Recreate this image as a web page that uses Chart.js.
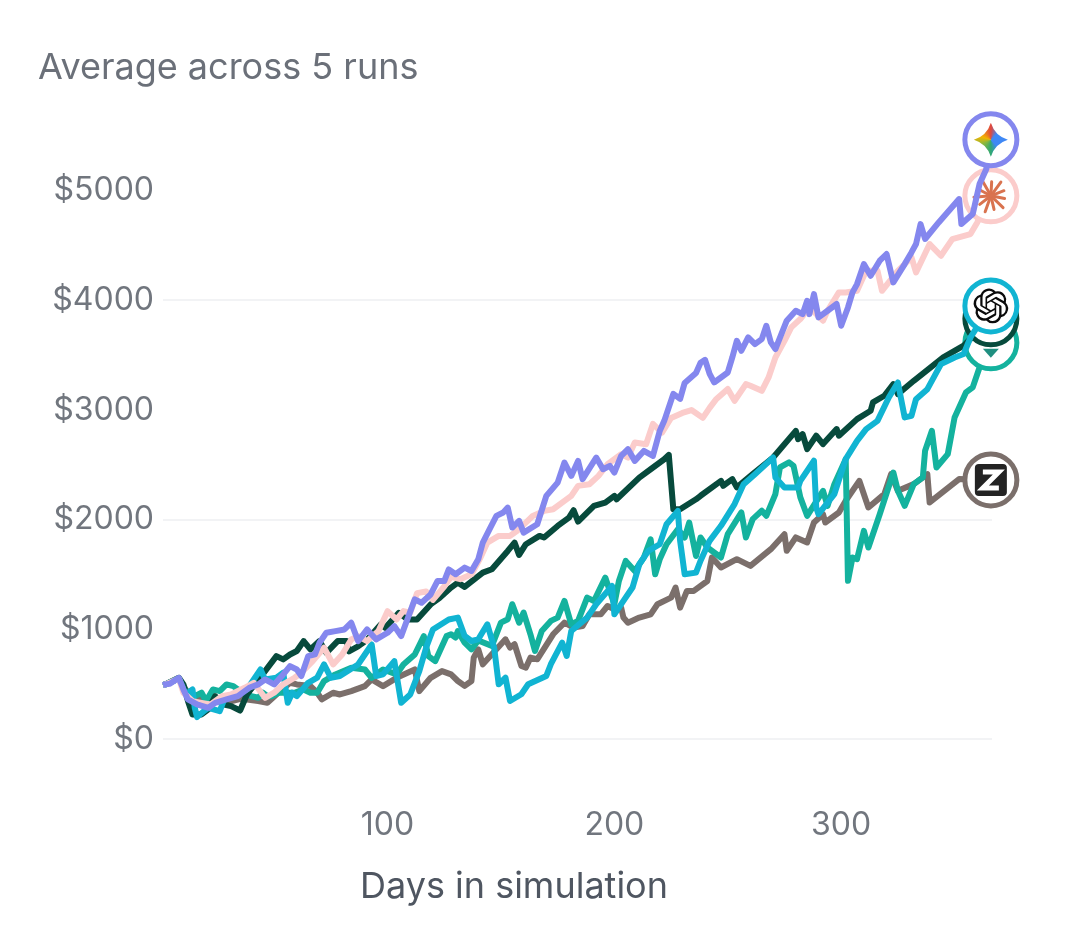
<!DOCTYPE html>
<html>
<head>
<meta charset="utf-8">
<script src="https://cdn.jsdelivr.net/npm/chart.js@4"></script>
<style>
    html, body { margin: 0; background: #fff; }
    #wrap { position: relative; width: 1080px; height: 925px; overflow: hidden; }
    #myChart { position: absolute; left: 0; top: 0; }
    .label { position: absolute; font-family: Inter, sans-serif; white-space: nowrap; }
    #title { left: 38px; top: 44px; font-size: 36px; color: #6b7079; }
    #xtitle { left: 360px; top: 863px; font-size: 36px; color: #4f5661; }
</style>
</head>
<body>
<div id="wrap">
    <canvas id="myChart" width="1080" height="925"></canvas>
    <div class="label" id="title">Average across 5 runs</div>
    <div class="label" id="xtitle">Days in simulation</div>
</div>
<script>
const yTicks = [0, 1000, 2000, 3000, 4000, 5000];
const xTicks = [100, 200, 300];
const gridValues = [0, 2000, 4000];

const geminiDays = [1, 2, 4, 8, 10, 12, 16, 21, 24, 29, 34, 39, 43, 46, 50, 54, 57, 60, 62, 65, 68, 70, 73, 77, 81, 84, 87, 91, 95, 100, 103, 106, 109, 112, 115, 119, 122, 125, 127, 130, 134, 137, 140, 142, 145, 148, 151, 153, 155, 158, 160, 166, 170, 175, 178, 181, 184, 186, 192, 195, 198, 200, 203, 206, 209, 213, 217, 220, 222, 226, 229, 231, 236, 238, 240, 242, 244, 250, 252, 254, 256, 259, 262, 265, 267, 269, 271, 276, 280, 283, 285, 286, 288, 290, 294, 298, 300, 303, 305, 307, 310, 313, 317, 320, 323, 328, 331, 333, 335, 337, 343, 352, 353, 358, 361, 364, 366];
const geminiValues = [492, 499, 505, 559, 453, 362, 316, 286, 331, 362, 392, 468, 499, 544, 499, 590, 666, 635, 575, 757, 772, 879, 970, 985, 1000, 1061, 894, 1000, 909, 970, 1030, 939, 1107, 1274, 1243, 1319, 1441, 1441, 1547, 1503, 1564, 1533, 1640, 1792, 1914, 2035, 2066, 2111, 1929, 1990, 1883, 1959, 2218, 2339, 2522, 2400, 2537, 2370, 2567, 2461, 2491, 2430, 2582, 2643, 2537, 2628, 2582, 2810, 2902, 3148, 3102, 3248, 3339, 3431, 3458, 3330, 3252, 3343, 3480, 3632, 3541, 3663, 3602, 3647, 3769, 3617, 3556, 3815, 3906, 3875, 3997, 3875, 4058, 3845, 3906, 3967, 3769, 3936, 4073, 4149, 4331, 4225, 4362, 4423, 4164, 4331, 4438, 4514, 4696, 4560, 4711, 4924, 4696, 4787, 5061, 5198, 5465];

const claudeDays = [1, 2, 8, 10, 14, 18, 22, 27, 31, 37, 41, 46, 50, 54, 59, 62, 67, 72, 76, 80, 84, 87, 91, 96, 100, 104, 107, 110, 113, 117, 120, 125, 128, 132, 137, 141, 144, 149, 154, 157, 161, 164, 169, 173, 178, 181, 184, 189, 193, 197, 203, 206, 209, 214, 217, 221, 225, 230, 234, 239, 242, 245, 250, 253, 258, 260, 265, 268, 271, 275, 278, 282, 286, 292, 294, 299, 302, 307, 311, 316, 318, 325, 331, 333, 339, 344, 349, 357, 360, 366];
const claudeValues = [492, 499, 553, 423, 347, 331, 316, 392, 407, 468, 514, 377, 423, 499, 560, 605, 711, 833, 681, 772, 909, 939, 894, 985, 1167, 1091, 1167, 1152, 1331, 1346, 1270, 1392, 1480, 1458, 1503, 1655, 1792, 1853, 1853, 1898, 1974, 2035, 2081, 2096, 2172, 2218, 2309, 2324, 2400, 2506, 2598, 2567, 2704, 2689, 2874, 2795, 2929, 2974, 3000, 2929, 3020, 3102, 3193, 3085, 3237, 3222, 3176, 3298, 3480, 3632, 3754, 3830, 3936, 3815, 3906, 4073, 4073, 4088, 4271, 4271, 4088, 4270, 4392, 4255, 4514, 4407, 4559, 4605, 4711, 4954];

const openaiDays = [1, 2, 8, 11, 14, 15, 16, 19, 21, 26, 28, 34, 38, 44, 46, 51, 54, 56, 58, 60, 65, 69, 72, 75, 79, 87, 93, 95, 98, 103, 106, 110, 114, 117, 120, 127, 131, 134, 137, 140, 144, 147, 149, 152, 154, 159, 162, 170, 172, 177, 179, 181, 188, 192, 199, 200, 204, 208, 211, 215, 220, 223, 228, 229, 231, 236, 238, 242, 247, 253, 257, 262, 270, 271, 275, 281, 282, 288, 289, 290, 297, 302, 307, 311, 316, 321, 325, 328, 331, 333, 338, 344, 350, 354, 357, 366];
const openaiValues = [492, 499, 553, 407, 453, 286, 201, 255, 286, 255, 362, 407, 453, 635, 544, 560, 605, 332, 423, 392, 514, 560, 681, 560, 575, 681, 863, 575, 590, 711, 331, 407, 620, 833, 1000, 1091, 1108, 941, 895, 910, 1047, 834, 500, 561, 348, 409, 500, 576, 683, 880, 758, 986, 1108, 1230, 1397, 1138, 1260, 1382, 1594, 1716, 1777, 1959, 2081, 1807, 1503, 1518, 1626, 1808, 1945, 2143, 2325, 2416, 2568, 2386, 2295, 2295, 2355, 2538, 2112, 2051, 2234, 2553, 2720, 2827, 2902, 3115, 3252, 2933, 2948, 3100, 3191, 3419, 3480, 3511, 3662, 3950];

const metaDays = [1, 2, 8, 10, 12, 14, 18, 21, 24, 28, 31, 35, 38, 46, 51, 54, 57, 60, 63, 66, 70, 73, 78, 82, 83, 87, 91, 97, 99, 105, 109, 113, 119, 123, 128, 131, 134, 142, 146, 153, 156, 158, 161, 167, 169, 175, 180, 182, 184, 191, 196, 200, 201, 211, 216, 222, 224, 226, 229, 236, 238, 247, 248, 252, 254, 261, 270, 280, 281, 283, 285, 289, 292, 298, 299, 307, 313, 314, 319, 323, 325, 332, 345, 354, 366];
const metaValues = [492, 499, 559, 499, 347, 225, 225, 271, 392, 316, 301, 261, 407, 620, 757, 727, 772, 803, 894, 818, 894, 787, 894, 894, 800, 845, 906, 1045, 1015, 1152, 1091, 1091, 1228, 1289, 1382, 1427, 1388, 1518, 1549, 1716, 1792, 1680, 1777, 1853, 1838, 1944, 2020, 2087, 1984, 2126, 2157, 2218, 2187, 2385, 2461, 2552, 2592, 2096, 2096, 2187, 2219, 2355, 2310, 2371, 2295, 2416, 2568, 2811, 2735, 2781, 2644, 2766, 2690, 2827, 2766, 2918, 2994, 3070, 3131, 3237, 3146, 3267, 3480, 3587, 3832];

const tealDays = [1, 2, 8, 12, 15, 18, 20, 23, 26, 29, 32, 34, 38, 40, 43, 45, 47, 49, 52, 59, 63, 66, 69, 72, 77, 84, 90, 93, 98, 104, 107, 112, 116, 118, 121, 126, 128, 130, 131, 134, 137, 140, 146, 150, 153, 155, 158, 160, 163, 165, 168, 172, 175, 178, 181, 184, 188, 191, 196, 200, 202, 205, 209, 213, 216, 218, 220, 223, 228, 231, 233, 236, 238, 241, 247, 250, 256, 258, 261, 265, 267, 271, 273, 277, 279, 282, 285, 292, 294, 297, 302, 303, 305, 307, 310, 312, 317, 323, 325, 328, 332, 336, 337, 340, 342, 347, 350, 355, 358, 361, 366];
const tealValues = [492, 499, 553, 407, 392, 423, 347, 453, 438, 499, 484, 453, 407, 392, 377, 423, 392, 392, 423, 423, 453, 423, 423, 529, 590, 651, 635, 559, 635, 590, 681, 772, 939, 757, 711, 939, 956, 926, 986, 880, 819, 900, 850, 1062, 1093, 1230, 1062, 1154, 956, 804, 986, 1078, 1108, 1260, 1047, 1078, 1290, 1260, 1473, 1230, 1442, 1625, 1533, 1655, 1822, 1503, 1640, 1777, 1914, 1838, 1974, 1670, 1839, 1747, 1656, 1869, 2067, 1839, 2006, 2082, 2036, 2234, 2477, 2523, 2492, 2204, 2036, 2264, 2127, 2325, 2553, 1443, 1656, 1641, 1899, 1747, 2051, 2431, 2264, 2127, 2325, 2386, 2629, 2811, 2477, 2599, 2933, 3161, 3207, 3389, 3613];

const grokDays = [1, 2, 8, 12, 20, 30, 37, 38, 43, 47, 51, 57, 60, 66, 69, 71, 76, 79, 84, 90, 93, 98, 104, 112, 114, 119, 124, 128, 131, 134, 137, 138, 140, 142, 146, 152, 154, 156, 159, 161, 163, 166, 173, 178, 182, 186, 189, 194, 197, 200, 203, 204, 206, 211, 216, 219, 225, 227, 229, 232, 235, 241, 243, 247, 254, 260, 269, 275, 276, 280, 285, 288, 292, 293, 299, 302, 308, 312, 319, 322, 325, 332, 338, 339, 352, 366];
const grokValues = [492, 499, 553, 420, 350, 340, 377, 362, 347, 331, 407, 514, 499, 484, 423, 362, 423, 407, 438, 483, 544, 483, 559, 635, 438, 559, 620, 591, 530, 485, 530, 743, 819, 682, 774, 910, 834, 865, 667, 652, 743, 728, 956, 1062, 1017, 1032, 1138, 1138, 1214, 1184, 1199, 1108, 1062, 1108, 1138, 1230, 1290, 1382, 1199, 1351, 1351, 1442, 1656, 1565, 1641, 1580, 1732, 1869, 1717, 1839, 1793, 1975, 2051, 1975, 2066, 2173, 2355, 2112, 2234, 2416, 2264, 2325, 2416, 2158, 2371, 2363];

// first one listed ends up on top
const series = [
    { name: 'Gemini', days: geminiDays, values: geminiValues, color: '#8487ee' },
    { name: 'Claude', days: claudeDays, values: claudeValues, color: '#fbcccb' },
    { name: 'OpenAI', days: openaiDays, values: openaiValues, color: '#11b4d2' },
    { name: 'Meta', days: metaDays, values: metaValues, color: '#074a3c' },
    { name: 'Teal', days: tealDays, values: tealValues, color: '#14b29e' },
    { name: 'Grok', days: grokDays, values: grokValues, color: '#7b6f6b' },
];

const drawGemini = (c) => {
    const r = 17;
    const grad = c.createConicGradient(-Math.PI / 2, 0, 0);
    grad.addColorStop(0, '#e0483e');
    grad.addColorStop(0.12, '#3f88f5');
    grad.addColorStop(0.38, '#3f88f5');
    grad.addColorStop(0.5, '#30a873');
    grad.addColorStop(0.68, '#8fb83a');
    grad.addColorStop(0.8, '#f4b400');
    grad.addColorStop(1, '#e0483e');
    c.fillStyle = grad;
    c.beginPath();
    c.moveTo(0, -r);
    c.quadraticCurveTo(4, -4, r, 0);
    c.quadraticCurveTo(4, 4, 0, r);
    c.quadraticCurveTo(-4, 4, -r, 0);
    c.quadraticCurveTo(-4, -4, 0, -r);
    c.fill();
};

const drawClaude = (c) => {
    c.strokeStyle = '#d9734f';
    c.lineWidth = 3;
    c.lineCap = 'round';
    for (let i = 0; i < 11; i++) {
        const a = i * Math.PI * 2 / 11 + 0.2;
        const r = i % 2 ? 17 : 14;
        c.beginPath();
        c.moveTo(0, 0);
        c.lineTo(Math.cos(a) * r, Math.sin(a) * r);
        c.stroke();
    }
};

const knot = new Path2D('M22.2819 9.8211a5.9847 5.9847 0 0 0-.5157-4.9108 6.0462 6.0462 0 0 0-6.5098-2.9A6.0651 6.0651 0 0 0 4.9807 4.1818a5.9847 5.9847 0 0 0-3.9977 2.9 6.0462 6.0462 0 0 0 .7427 7.0966 5.98 5.98 0 0 0 .511 4.9107 6.051 6.051 0 0 0 6.5146 2.9001A5.9847 5.9847 0 0 0 13.2599 24a6.0557 6.0557 0 0 0 5.7718-4.2058 5.9894 5.9894 0 0 0 3.9977-2.9001 6.0557 6.0557 0 0 0-.7475-7.0729zm-9.022 12.6081a4.4755 4.4755 0 0 1-2.8764-1.0408l.1419-.0804 4.7783-2.7582a.7948.7948 0 0 0 .3927-.6813v-6.7369l2.02 1.1686a.071.071 0 0 1 .038.052v5.5826a4.504 4.504 0 0 1-4.4945 4.4944zm-9.6607-4.1254a4.4708 4.4708 0 0 1-.5346-3.0137l.142.0852 4.783 2.7582a.7712.7712 0 0 0 .7806 0l5.8428-3.3685v2.3324a.0804.0804 0 0 1-.0332.0615L9.74 19.9502a4.4992 4.4992 0 0 1-6.1408-1.6464zM2.3408 7.8956a4.485 4.485 0 0 1 2.3655-1.9728V11.6a.7664.7664 0 0 0 .3879.6765l5.8144 3.3543-2.0201 1.1685a.0757.0757 0 0 1-.071 0l-4.8303-2.7865A4.504 4.504 0 0 1 2.3408 7.872zm16.5963 3.8558L13.1038 8.364 15.1192 7.2a.0757.0757 0 0 1 .071 0l4.8303 2.7913a4.4944 4.4944 0 0 1-.6765 8.1042v-5.6772a.79.79 0 0 0-.407-.667zm2.0107-3.0231l-.142-.0852-4.7735-2.7818a.7759.7759 0 0 0-.7854 0L9.409 9.2297V6.8974a.0662.0662 0 0 1 .0284-.0615l4.8303-2.7866a4.4992 4.4992 0 0 1 6.6802 4.66zM8.3065 12.863l-2.02-1.1638a.0804.0804 0 0 1-.038-.0567V6.0742a4.4992 4.4992 0 0 1 7.3757-3.4537l-.142.0805L8.704 5.459a.7948.7948 0 0 0-.3927.6813zm1.0976-2.3654l2.602-1.4998 2.6069 1.4998v2.9994l-2.5974 1.4997-2.6067-1.4997Z');

const drawOpenai = (c) => {
    c.scale(1.45, 1.45);
    c.translate(-12, -12);
    c.fillStyle = '#0b0b0b';
    c.fill(knot);
};

const drawKite = (c) => {
    c.fillStyle = '#1f8f80';
    c.beginPath();
    c.moveTo(-8, 6);
    c.lineTo(8, 6);
    c.lineTo(0, 15);
    c.closePath();
    c.fill();
};

const drawGrok = (c) => {
    c.fillStyle = '#232323';
    c.beginPath();
    c.roundRect(-16, -16, 32, 32, 4);
    c.fill();
    c.strokeStyle = '#fff';
    c.lineWidth = 5;
    c.beginPath();
    c.moveTo(-8, -8);
    c.lineTo(8, -8);
    c.lineTo(-8, 8);
    c.lineTo(8, 8);
    c.stroke();
};

const icons = { Gemini: drawGemini, Claude: drawClaude, OpenAI: drawOpenai, Meta: drawKite, Teal: drawKite, Grok: drawGrok };

const iconPlugin = {
    id: 'endIcons',
    afterDatasetDraw(chart, args) {
        const pts = args.meta.data;
        const end = pts[pts.length - 1];
        const c = chart.ctx;
        c.save();
        c.translate(end.x, end.y);
        icons[series[args.index].name](c);
        c.restore();
    },
};

const datasets = series.map((s) => ({
    label: s.name,
    data: s.days.map((d, i) => ({ x: d, y: s.values[i] })),
    borderColor: s.color,
    borderWidth: 6,
    tension: 0,
    clip: false,
    borderJoinStyle: 'round',
    pointBackgroundColor: '#fff',
    pointBorderColor: s.color,
    pointBorderWidth: 5,
    pointRadius: (ctx) => (ctx.dataIndex === s.days.length - 1 ? 26 : 0),
}));

const config = {
    type: 'line',
    data: { datasets },
    plugins: [iconPlugin],
    options: {
        responsive: false,
        animation: false,
        layout: { padding: { top: 103, right: 88 } },
        plugins: { legend: { display: false }, tooltip: { enabled: false } },
        scales: {
            x: {
                type: 'linear',
                min: 1,
                max: 366.5,
                afterBuildTicks: (s) => { s.ticks = xTicks.map((v) => ({ value: v })); },
                afterFit: (s) => { s.height = 142; },
                grid: { display: false },
                border: { display: false },
                ticks: {
                    padding: 15,
                    maxRotation: 0,
                    color: '#71767e',
                    font: { family: 'Inter', size: 32 },
                },
            },
            y: {
                min: -400,
                max: 5800,
                afterBuildTicks: (s) => { s.ticks = yTicks.map((v) => ({ value: v })); },
                afterFit: (s) => { s.width = 163; },
                grid: {
                    drawTicks: false,
                    lineWidth: 2,
                    color: (ctx) => (gridValues.includes(ctx.tick.value) ? '#f2f3f5' : 'transparent'),
                },
                border: { display: false },
                ticks: {
                    padding: 9,
                    color: '#71767e',
                    font: { family: 'Inter', size: 32 },
                    callback: (v) => '$' + v,
                },
            },
        },
    },
};

const myChart = new Chart(document.querySelector('#myChart').getContext('2d'), config);
</script>
</body>
</html>
